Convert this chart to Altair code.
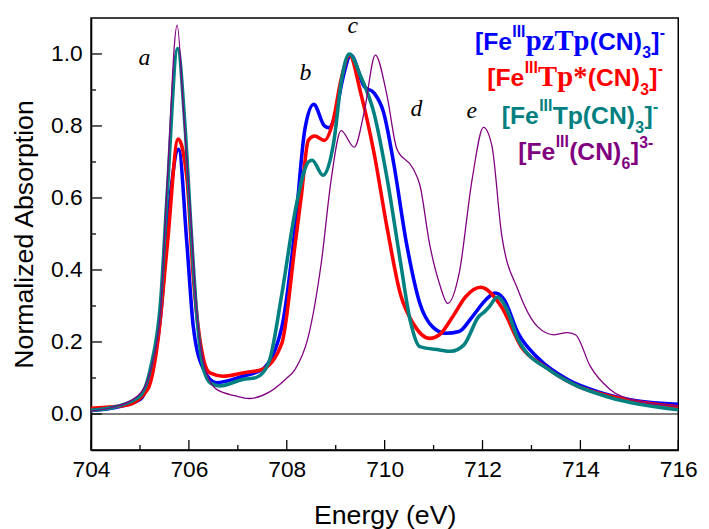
import altair as alt
import pandas as pd

# ---------------- data ----------------
pz_E = [704.0, 704.5, 705.0, 705.22, 705.42, 705.6, 705.79, 705.96, 706.09, 706.3, 706.56,
        707.1, 707.5, 707.9, 708.17, 708.37, 708.55, 708.77, 708.86, 709.0, 709.14, 709.31,
        709.58, 709.78, 709.98, 710.18, 710.45, 710.72, 710.98, 711.25, 711.52, 711.79,
        712.06, 712.26, 712.43, 712.73, 713.13, 713.73, 714.4, 715.14, 716.0]
pz_A = [0.010, 0.018, 0.040, 0.110, 0.270, 0.580, 0.735, 0.471, 0.242, 0.124, 0.087,
        0.105, 0.124, 0.242, 0.517, 0.791, 0.860, 0.800, 0.795, 0.837, 0.929, 0.997,
        0.910, 0.892, 0.837, 0.700, 0.471, 0.307, 0.242, 0.224, 0.229, 0.270,
        0.316, 0.336, 0.320, 0.224, 0.156, 0.096, 0.060, 0.037, 0.027]

tps_E = [704.0, 704.75, 705.16, 705.36, 705.56, 705.78, 705.96, 706.09, 706.3, 706.43, 706.7,
         707.1, 707.5, 707.9, 708.17, 708.3, 708.44, 708.57, 708.77, 708.94, 709.11, 709.28,
         709.51, 709.78, 710.05, 710.32, 710.58, 710.92, 711.12, 711.39, 711.65, 711.96,
         712.39, 712.79, 713.26, 713.93, 714.6, 715.2, 716.0]
tps_A = [0.016, 0.025, 0.069, 0.197, 0.471, 0.764, 0.654, 0.380, 0.151, 0.114, 0.105,
         0.114, 0.124, 0.197, 0.471, 0.609, 0.760, 0.772, 0.760, 0.810, 0.929, 0.997,
         0.892, 0.727, 0.517, 0.334, 0.252, 0.210, 0.220, 0.270, 0.325, 0.352,
         0.297, 0.187, 0.133, 0.078, 0.050, 0.033, 0.020]

tp_E = [704.0, 704.5, 705.0, 705.22, 705.42, 705.56, 705.77, 705.92, 706.05, 706.17, 706.3,
        706.45, 706.63, 707.1, 707.37, 707.63, 707.9, 708.17, 708.44, 708.52, 708.74, 708.97,
        709.11, 709.28, 709.51, 709.78, 710.05, 710.32, 710.52, 710.72, 711.12, 711.35,
        711.62, 711.92, 712.05, 712.15, 712.3, 712.5, 712.73, 713.4, 713.93, 714.6, 716.0]
tp_A = [0.010, 0.020, 0.050, 0.130, 0.310, 0.620, 1.015, 0.800, 0.500, 0.260, 0.124,
        0.085, 0.078, 0.096, 0.101, 0.142, 0.334, 0.563, 0.700, 0.705, 0.663, 0.764,
        0.920, 1.000, 0.938, 0.837, 0.654, 0.425, 0.261, 0.187, 0.178, 0.174,
        0.192, 0.270, 0.285, 0.300, 0.325, 0.290, 0.206, 0.119, 0.078, 0.046, 0.012]

cn6_E = [704.0, 704.42, 704.95, 705.22, 705.42, 705.56, 705.76, 705.89, 706.03, 706.16, 706.3,
         706.56, 706.96, 707.23, 707.63, 707.97, 708.17, 708.44, 708.71, 708.91, 709.11,
         709.38, 709.58, 709.81, 710.05, 710.25, 710.58, 710.72, 710.92, 711.12, 711.29,
         711.52, 711.79, 712.02, 712.19, 712.39, 712.73, 713.13, 713.46, 713.73, 713.9,
         714.2, 714.6, 715.14, 716.0]
cn6_A = [0.008, 0.018, 0.050, 0.124, 0.288, 0.654, 1.080, 0.841, 0.563, 0.288, 0.142,
         0.069, 0.050, 0.043, 0.060, 0.096, 0.124, 0.215, 0.425, 0.654, 0.787,
         0.741, 0.837, 0.997, 0.883, 0.736, 0.682, 0.636, 0.471, 0.362, 0.307,
         0.389, 0.654, 0.796, 0.746, 0.499, 0.343, 0.242, 0.220, 0.226, 0.220,
         0.133, 0.069, 0.037, 0.022]

peak_labels = ["a", "b", "c", "d", "e"]
peak_E = [705.09, 708.38, 709.35, 710.65, 711.78]
peak_A = [0.969, 0.929, 1.059, 0.829, 0.822]

x_ticks_major = [704, 706, 708, 710, 712, 714, 716]
x_ticks_minor = [705, 707, 709, 711, 713, 715]
y_ticks_major = [0.0, 0.2, 0.4, 0.6, 0.8, 1.0]
y_ticks_minor = [0.1, 0.3, 0.5, 0.7, 0.9]

series_names = ["pzTp", "Tp*", "Tp", "CN6"]
series_colors = ["#0000FF", "#FF0000", "#008080", "#800080"]

# legend text pieces: (text, style)
legend_lines = [
    ("pzTp", [("[Fe", "big"), ("III", "sup"), ("pzTp", "serif"), ("(CN)", "big"),
              ("3", "sub"), ("]", "big"), ("-", "supm")]),
    ("Tp*", [("[Fe", "big"), ("III", "sup"), ("Tp*", "serif"), ("(CN)", "big"),
             ("3", "sub"), ("]", "big"), ("-", "supm")]),
    ("Tp", [("[Fe", "big"), ("III", "sup"), ("Tp(CN)", "big"),
            ("3", "sub"), ("]", "big"), ("-", "supm")]),
    ("CN6", [("[Fe", "big"), ("III", "sup"), ("(CN)", "big"),
             ("6", "sub"), ("]", "big"), ("3-", "supm")]),
]

# ---------------- layout ----------------
W, H = 594, 437
X0, X1 = 704, 716
Y0, Y1 = -0.1, 1.1
BLACK = "#000000"

xs = alt.Scale(domain=[X0, X1], nice=False, zero=False)
ys = alt.Scale(domain=[Y0, Y1], nice=False, zero=False)

xaxis = alt.Axis(values=x_ticks_major, ticks=False, grid=False, domainColor=BLACK,
                 domainWidth=1.5, labelFont="Liberation Sans", labelFontSize=23,
                 labelColor=BLACK, labelPadding=9, labelFlush=False,
                 title="Energy (eV)",
                 titleFont="Liberation Sans", titleFontSize=27, titleFontWeight="normal",
                 titleColor=BLACK, titlePadding=21)
yaxis = alt.Axis(values=y_ticks_major, format=".1f", ticks=False, grid=False,
                 domainColor=BLACK, domainWidth=1.5, labelFont="Liberation Sans",
                 labelFontSize=23, labelColor=BLACK, labelPadding=9, labelFlush=False,
                 title="Normalized Absorption", titleFont="Liberation Sans",
                 titleFontSize=27, titleFontWeight="normal", titleColor=BLACK,
                 titlePadding=12)

X = lambda: alt.X("E:Q", scale=xs, axis=xaxis)
Y = lambda: alt.Y("A:Q", scale=ys, axis=yaxis)
color_scale = alt.Scale(domain=series_names, range=series_colors)


def line_layer(E, A, color, width):
    df = pd.DataFrame({"E": E, "A": A})
    return alt.Chart(df).mark_line(color=color, strokeWidth=width,
                                   interpolate="monotone", clip=True).encode(x=X(), y=Y())


lines = [
    line_layer(pz_E, pz_A, series_colors[0], 3.6),
    line_layer(tps_E, tps_A, series_colors[1], 3.6),
    line_layer(tp_E, tp_A, series_colors[2], 3.6),
    line_layer(cn6_E, cn6_A, series_colors[3], 1.3),
]

zero_line = alt.Chart(pd.DataFrame({"A": [0.0]})).mark_rule(
    color=BLACK, strokeWidth=1.2).encode(y=Y())

xt_major = alt.Chart(pd.DataFrame({"E": x_ticks_major})).mark_rule(
    color=BLACK, strokeWidth=1.3).encode(x=X(), y=alt.value(H), y2=alt.value(H - 10))
xt_minor = alt.Chart(pd.DataFrame({"E": x_ticks_minor})).mark_rule(
    color=BLACK, strokeWidth=1.3).encode(x=X(), y=alt.value(H), y2=alt.value(H - 5))
yt_major = alt.Chart(pd.DataFrame({"A": y_ticks_major})).mark_rule(
    color=BLACK, strokeWidth=1.3).encode(y=Y(), x=alt.value(0), x2=alt.value(11))
yt_minor = alt.Chart(pd.DataFrame({"A": y_ticks_minor})).mark_rule(
    color=BLACK, strokeWidth=1.3).encode(y=Y(), x=alt.value(0), x2=alt.value(5))

letters = alt.Chart(pd.DataFrame({"E": peak_E, "A": peak_A, "t": peak_labels})).mark_text(
    font="Liberation Serif", fontStyle="italic", fontSize=24, color=BLACK,
    baseline="alphabetic", align="center").encode(x=X(), y=Y(), text="t:N")

# legend: lay the text pieces out with approximate font metrics
SANS_B = {"[": 333, "]": 333, "F": 611, "e": 556, "I": 278, "p": 611, "z": 500, "T": 611,
          "(": 333, ")": 333, "C": 722, "N": 722, "3": 556, "6": 556, "-": 333, "*": 389}
SERIF_B = {"p": 556, "z": 444, "T": 667, "*": 500}
STYLES = {
    "big":   dict(font="Liberation Sans", size=25, shift=0, table=SANS_B),
    "serif": dict(font="Liberation Serif", size=29, shift=0, table=SERIF_B),
    "sup":   dict(font="Liberation Sans", size=16, shift=13, table=SANS_B),
    "supm":  dict(font="Liberation Sans", size=16, shift=12, table=SANS_B),
    "sub":   dict(font="Liberation Sans", size=16, shift=-9, table=SANS_B),
}
legend_right_px = [581, 579, 574, 569]   # right end of each legend line, from the plot's left
legend_base_px = [32, 69, 107, 144]      # baselines, from the plot's top edge

rows = []
for (name, pieces), right, base in zip(legend_lines, legend_right_px, legend_base_px):
    widths = [sum(STYLES[s]["table"][c] for c in t) * STYLES[s]["size"] / 1000 + 0.3
              for t, s in pieces]
    left = right - sum(widths)
    for (t, s), w in zip(pieces, widths):
        st = STYLES[s]
        rows.append(dict(t=t, style=s, series=name,
                         E=X0 + left * (X1 - X0) / W,
                         A=Y1 - (base - st["shift"]) * (Y1 - Y0) / H))
        left += w
legend_df = pd.DataFrame(rows)

legend_layers = []
for s, st in STYLES.items():
    legend_layers.append(
        alt.Chart(legend_df).transform_filter(alt.datum.style == s).mark_text(
            font=st["font"], fontSize=st["size"], fontWeight="bold", align="left",
            baseline="alphabetic").encode(
            x=X(), y=Y(), text="t:N",
            color=alt.Color("series:N", scale=color_scale, legend=None)))

chart = alt.layer(zero_line, *lines, xt_major, xt_minor, yt_major, yt_minor,
                  letters, *legend_layers).properties(
    width=W, height=H,
    autosize=alt.AutoSizeParams(type="none"),
    padding={"left": 84, "top": 7, "right": 23, "bottom": 90},
    background="white",
).configure_view(stroke=BLACK, strokeWidth=1.5)

chart.save("out.html", embed_options={"renderer": "svg", "actions": False})
